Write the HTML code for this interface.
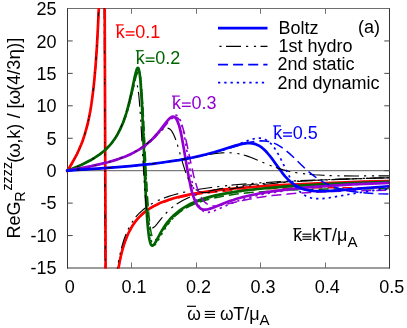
<!DOCTYPE html><html><head><meta charset="utf-8"><style>html,body{margin:0;padding:0;background:#fff}svg{display:block;will-change:transform;opacity:0.9999}text{font-family:"Liberation Sans",sans-serif;font-size:18px;fill:#000}</style></head><body>
<svg width="407" height="328" viewBox="0 0 407 328">
<rect width="407" height="328" fill="#fff"/>
<defs><clipPath id="c"><rect x="64.5" y="8.0" width="324.5" height="260.5"/></clipPath></defs>
<line x1="67.5" y1="170.69" x2="389.5" y2="170.69" stroke="#5c5c5c" stroke-width="1"/>
<g stroke-width="1" fill="none">
<line x1="67.0" y1="8.5" x2="390.0" y2="8.5" stroke="#6e6e6e"/>
<line x1="67.0" y1="268.0" x2="390.0" y2="268.0" stroke="#383838"/>
<line x1="67.5" y1="8.5" x2="67.5" y2="268.5" stroke="#363636"/>
<line x1="389.5" y1="8.5" x2="389.5" y2="268.5" stroke="#363636"/>
<line x1="131.50" y1="268.0" x2="131.50" y2="262.5" stroke="#707070"/>
<line x1="131.50" y1="8.5" x2="131.50" y2="13.8" stroke="#707070"/>
<line x1="196.50" y1="268.0" x2="196.50" y2="262.5" stroke="#707070"/>
<line x1="196.50" y1="8.5" x2="196.50" y2="13.8" stroke="#707070"/>
<line x1="260.50" y1="268.0" x2="260.50" y2="262.5" stroke="#707070"/>
<line x1="260.50" y1="8.5" x2="260.50" y2="13.8" stroke="#707070"/>
<line x1="325.50" y1="268.0" x2="325.50" y2="262.5" stroke="#707070"/>
<line x1="325.50" y1="8.5" x2="325.50" y2="13.8" stroke="#707070"/>
<line x1="67.5" y1="235.56" x2="72.7" y2="235.56" stroke="#484848"/>
<line x1="389.5" y1="235.56" x2="384.3" y2="235.56" stroke="#484848"/>
<line x1="67.5" y1="203.12" x2="72.7" y2="203.12" stroke="#484848"/>
<line x1="389.5" y1="203.12" x2="384.3" y2="203.12" stroke="#484848"/>
<line x1="67.5" y1="170.69" x2="72.7" y2="170.69" stroke="#484848"/>
<line x1="389.5" y1="170.69" x2="384.3" y2="170.69" stroke="#484848"/>
<line x1="67.5" y1="138.25" x2="72.7" y2="138.25" stroke="#484848"/>
<line x1="389.5" y1="138.25" x2="384.3" y2="138.25" stroke="#484848"/>
<line x1="67.5" y1="105.81" x2="72.7" y2="105.81" stroke="#484848"/>
<line x1="389.5" y1="105.81" x2="384.3" y2="105.81" stroke="#484848"/>
<line x1="67.5" y1="73.38" x2="72.7" y2="73.38" stroke="#484848"/>
<line x1="389.5" y1="73.38" x2="384.3" y2="73.38" stroke="#484848"/>
<line x1="67.5" y1="40.94" x2="72.7" y2="40.94" stroke="#484848"/>
<line x1="389.5" y1="40.94" x2="384.3" y2="40.94" stroke="#484848"/>
</g>
<g clip-path="url(#c)" fill="none" stroke-linejoin="round">
<path d="M67.2,171.2 72.1,163.0 75.5,156.8 77.1,153.8 78.5,150.8 79.8,147.8 81.1,144.8 82.4,141.5 83.5,138.3 84.6,134.9 85.6,131.4 86.6,127.9 87.6,124.2 89.3,116.2 90.3,111.0 91.2,105.6 92.0,99.7 92.8,93.6 93.6,87.0 94.3,80.2 95.6,65.4 96.8,48.7 97.8,29.9 98.8,8.7 99.7,-17.4 104.6,-17.4 105.7,293.9 115.1,293.9 115.1,293.9 116.5,281.5 117.3,276.1 118.1,270.8 118.9,265.9 119.8,261.1 120.7,256.7 121.7,252.5 122.8,248.5 123.9,244.9 125.1,241.3 126.4,237.9 127.7,234.8 129.1,231.8 130.6,229.0 132.1,226.3 133.5,224.2 134.9,222.2 136.3,220.4 137.8,218.6 139.4,216.9 141.1,215.2 142.8,213.6 144.6,212.1 146.5,210.7 148.5,209.3 150.6,207.9 152.8,206.6 155.1,205.4 157.5,204.3 159.9,203.1 162.6,202.0 165.6,200.9 168.8,199.8 172.1,198.7 175.6,197.7 179.3,196.8 183.2,195.8 191.6,194.1 200.8,192.5 211.0,191.1 222.1,189.7 234.5,188.5 248.2,187.3 263.3,186.2 279.9,185.2 298.1,184.3 318.1,183.4 340.0,182.5 363.7,181.7 389.5,181.0" stroke="#ff0000" stroke-width="2.7" stroke-linecap="round"/>
<path d="M67.2,171.2 72.1,162.9 75.5,156.8 77.1,153.7 78.5,150.8 79.9,147.7 81.1,144.7 82.4,141.5 83.5,138.2 84.6,134.9 85.6,131.4 86.6,127.7 87.6,123.9 89.3,116.0 90.3,110.8 91.2,105.3 92.0,99.6 92.8,93.4 93.6,87.0 94.3,80.1 95.6,65.1 96.7,48.5 97.7,29.4 98.7,7.7 99.5,-17.4 104.2,-17.4 105.4,293.9 114.2,293.9 115.6,281.0 116.3,275.5 117.1,270.1 117.9,265.1 118.7,260.2 119.7,255.6 120.6,251.3 121.7,247.2 122.8,243.3 123.9,239.7 125.2,236.3 126.5,233.0 127.8,229.9 129.3,227.0 130.9,224.2 132.2,222.1 133.6,220.1 135.0,218.1 136.5,216.2 138.1,214.4 139.8,212.7 141.6,211.1 143.4,209.5 145.3,208.0 147.4,206.5 149.4,205.1 151.7,203.8 154.0,202.5 156.4,201.3 158.9,200.1 161.6,199.0 164.7,197.8 168.0,196.6 171.4,195.5 175.0,194.5 178.8,193.5 182.7,192.5 186.9,191.6 191.3,190.7 200.8,189.0 211.1,187.5 222.6,186.1 235.0,184.8 248.7,183.7 263.8,182.6 280.4,181.6 298.5,180.7 318.3,179.9 339.9,179.1 363.6,178.4 389.5,177.8" stroke="#000" stroke-width="1.15" stroke-dasharray="15 5 2.2 5.7 2.2 4.4" stroke-dashoffset="-12.8"/>
<path d="M67.2,171.2 72.1,163.0 75.5,156.8 77.1,153.8 78.5,150.8 79.9,147.7 81.1,144.7 82.4,141.4 83.5,138.2 84.6,134.8 85.7,131.3 86.6,127.8 87.6,124.0 89.3,116.0 90.3,110.8 91.2,105.4 92.1,99.5 92.9,93.4 93.7,86.7 94.4,79.9 95.7,65.1 96.8,48.2 97.9,29.4 98.8,8.0 99.7,-17.4 104.6,-17.4 105.7,293.9 115.1,293.9 116.5,281.6 117.3,276.2 118.1,270.9 118.9,266.0 119.8,261.3 120.8,256.7 121.8,252.6 122.8,248.6 124.0,244.8 125.2,241.3 126.4,238.0 127.8,234.8 129.2,231.8 130.7,228.9 132.3,226.2 133.7,224.2 135.0,222.3 136.5,220.4 138.1,218.6 139.7,216.9 141.4,215.2 143.2,213.6 145.1,212.1 147.0,210.7 149.1,209.3 151.2,208.0 153.4,206.8 155.7,205.6 158.2,204.4 160.8,203.3 163.4,202.3 166.5,201.2 169.8,200.1 173.3,199.1 176.9,198.2 180.7,197.3 184.7,196.4 188.9,195.6 193.3,194.9 202.7,193.5 213.1,192.3 224.5,191.2 236.9,190.3 250.6,189.6 265.6,188.9 281.9,188.4 299.7,188.1 319.2,187.8 340.7,187.7 364.0,187.7 389.5,187.8" stroke="#ff0000" stroke-width="1.5" stroke-dasharray="10 5"/>
<path d="M67.2,171.2 72.1,163.0 75.5,156.8 77.1,153.8 78.5,150.8 79.8,147.8 81.1,144.8 82.4,141.5 83.5,138.3 84.6,134.9 85.6,131.4 86.6,127.9 87.6,124.2 89.3,116.2 90.3,111.0 91.2,105.6 92.0,99.7 92.8,93.6 93.6,87.0 94.3,80.2 95.6,65.4 96.8,48.7 97.8,29.9 98.8,8.7 99.7,-17.4 104.6,-17.4 105.7,293.9 115.1,293.9 115.1,293.9 116.5,281.5 117.3,276.1 118.1,270.8 118.9,265.9 119.8,261.1 120.7,256.7 121.7,252.5 122.8,248.5 123.9,244.9 125.1,241.3 126.4,237.9 127.7,234.8 129.1,231.8 130.6,229.0 132.1,226.3 133.5,224.2 134.9,222.2 136.3,220.4 137.8,218.6 139.4,216.9 141.1,215.2 142.8,213.6 144.6,212.1 146.5,210.7 148.5,209.3 150.6,207.9 152.8,206.6 155.1,205.4 157.5,204.3 159.9,203.1 162.6,202.0 165.6,200.9 168.8,199.8 172.1,198.7 175.6,197.7 179.3,196.8 183.2,195.8 191.6,194.1 200.8,192.5 211.0,191.1 222.1,189.7 234.5,188.5 248.2,187.3 263.3,186.2 279.9,185.2 298.1,184.3 318.1,183.4 340.0,182.5 363.7,181.7 389.5,181.0" stroke="#ff0000" stroke-width="1.7" stroke-dasharray="2.3 4"/>
<path d="M67.2,170.8 77.7,166.4 81.6,164.7 85.1,163.0 88.4,161.3 91.5,159.7 94.3,158.0 97.0,156.2 99.7,154.4 102.1,152.5 104.5,150.5 106.7,148.5 108.8,146.3 110.8,144.1 112.6,141.8 114.4,139.3 116.0,136.9 117.5,134.4 118.9,131.7 120.3,128.9 121.6,126.0 122.9,122.9 124.1,119.7 125.3,116.3 126.4,112.8 127.5,109.0 129.6,100.9 131.5,92.6 134.7,77.1 135.8,72.6 136.4,70.5 136.9,69.0 137.4,68.1 137.7,68.0 137.9,67.9 138.1,68.0 138.4,68.3 138.8,69.4 139.2,71.2 139.7,73.8 140.1,77.3 140.5,81.4 141.2,92.2 141.9,103.1 142.5,117.4 144.8,171.9 145.6,191.5 146.5,208.6 147.4,221.9 147.9,227.6 148.4,232.2 148.9,236.2 149.4,239.3 150.0,241.8 150.6,243.7 150.9,244.4 151.3,245.0 151.6,245.3 151.9,245.6 152.2,245.6 152.5,245.6 152.9,245.5 153.2,245.3 154.0,244.6 154.8,243.4 156.3,241.0 160.0,233.9 162.1,230.2 164.4,226.5 166.7,223.2 168.9,220.5 171.1,217.9 173.6,215.5 176.2,213.2 179.8,210.4 183.1,208.1 186.8,205.9 190.7,203.8 194.9,201.9 199.5,200.1 204.5,198.4 209.8,196.9 215.8,195.4 222.1,194.1 229.0,192.8 236.4,191.6 244.5,190.5 253.2,189.5 262.7,188.5 272.8,187.6 284.0,186.7 295.9,185.9 308.8,185.1 322.6,184.4 337.6,183.7 353.7,183.1 389.5,181.8" stroke="#006400" stroke-width="2.7" stroke-linecap="round"/>
<path d="M67.2,170.8 77.0,166.7 83.9,163.6 87.1,162.0 90.0,160.5 92.7,158.9 95.3,157.4 97.8,155.7 100.1,154.1 102.3,152.3 104.5,150.5 106.5,148.6 108.4,146.7 110.2,144.7 111.9,142.5 113.4,140.5 114.9,138.4 116.3,136.2 117.6,133.8 118.9,131.4 120.2,128.8 121.4,126.1 122.6,123.3 124.8,117.3 126.9,110.5 128.9,103.7 132.2,90.9 133.4,86.9 134.1,84.9 134.7,83.6 135.3,82.9 135.5,82.7 135.8,82.6 136.0,82.7 136.3,82.9 136.8,83.8 137.2,85.2 137.7,87.2 138.1,90.0 138.6,93.3 139.4,101.8 140.1,111.1 140.9,122.5 143.3,166.1 144.3,182.5 145.3,196.7 146.4,207.7 146.9,212.4 147.5,216.4 148.1,219.7 148.7,222.4 149.4,224.5 150.1,226.1 150.4,226.7 150.8,227.2 151.2,227.6 151.6,227.8 152.0,227.9 152.4,227.9 153.2,227.7 154.1,227.1 155.2,226.1 156.9,224.1 161.5,218.4 163.9,215.4 166.7,212.5 169.4,209.8 171.7,207.8 174.1,205.9 176.6,204.1 179.3,202.4 182.6,200.5 186.3,198.7 190.1,197.0 194.2,195.4 198.6,194.0 203.2,192.6 208.2,191.3 213.7,190.1 219.8,188.9 226.4,187.8 233.5,186.7 241.1,185.7 249.3,184.8 258.0,184.0 267.4,183.2 277.5,182.4 288.5,181.7 300.1,181.0 325.9,179.8 355.5,178.7 389.5,177.8" stroke="#000" stroke-width="1.15" stroke-dasharray="15 5 2.2 5.7 2.2 4.4" stroke-dashoffset="9.5"/>
<path d="M67.2,170.8 77.5,166.5 81.3,164.8 84.8,163.2 88.1,161.5 91.1,159.9 93.9,158.2 96.6,156.5 99.2,154.7 101.7,152.9 104.0,151.0 106.2,149.0 108.3,146.9 110.3,144.8 112.2,142.5 114.0,140.2 115.5,137.9 117.1,135.5 118.5,132.9 119.9,130.3 121.2,127.6 122.5,124.6 123.8,121.6 125.0,118.4 126.1,115.1 127.2,111.5 129.5,103.7 131.4,95.9 134.9,81.3 136.0,76.8 136.7,74.6 137.3,73.1 137.9,72.3 138.1,72.1 138.4,72.0 138.7,72.1 138.9,72.4 139.4,73.4 139.9,75.0 140.3,77.3 140.8,80.4 141.2,84.1 142.1,94.3 142.8,105.0 143.5,118.2 146.0,168.5 147.0,187.4 148.0,203.9 149.0,216.6 149.6,222.0 150.1,226.4 150.7,230.3 151.3,233.4 152.0,235.9 152.7,237.8 153.0,238.5 153.4,239.0 153.8,239.4 154.2,239.7 154.6,239.8 155.0,239.8 155.4,239.8 155.8,239.6 156.7,238.9 157.7,237.9 159.5,235.5 163.9,229.0 166.4,225.6 169.1,222.3 171.8,219.3 174.1,217.0 176.4,214.9 178.9,212.9 181.5,211.0 184.8,208.8 188.4,206.8 192.2,205.0 196.2,203.3 200.5,201.7 205.2,200.3 210.2,198.9 215.5,197.7 221.6,196.4 228.0,195.3 235.0,194.3 242.5,193.4 250.6,192.6 259.3,191.9 268.6,191.2 278.6,190.6 289.4,190.1 300.9,189.7 313.3,189.4 326.5,189.1 340.7,188.9 355.8,188.7 389.5,188.7" stroke="#006400" stroke-width="1.5" stroke-dasharray="10 5"/>
<path d="M67.2,170.8 77.6,166.5 81.4,164.7 84.9,163.1 88.3,161.4 91.3,159.7 94.2,158.1 96.9,156.4 99.5,154.6 102.0,152.7 104.3,150.7 106.5,148.7 108.6,146.6 110.6,144.4 112.5,142.1 114.3,139.7 115.9,137.3 117.5,134.8 118.9,132.2 120.3,129.5 121.6,126.7 122.9,123.7 124.2,120.5 125.4,117.2 126.5,113.8 127.6,110.2 129.8,102.3 131.7,94.3 135.1,79.4 136.2,74.9 136.9,72.7 137.4,71.3 138.0,70.4 138.2,70.2 138.5,70.1 138.7,70.2 139.0,70.4 139.2,70.9 139.4,71.5 139.9,73.2 140.3,75.8 140.8,78.9 141.2,83.0 142.0,93.6 142.7,104.8 143.4,118.7 145.8,172.0 146.7,191.5 147.7,208.5 148.6,221.7 149.2,227.2 149.7,231.8 150.2,235.8 150.8,238.8 151.4,241.3 152.0,243.2 152.3,243.9 152.7,244.4 153.0,244.8 153.4,245.0 153.7,245.1 154.1,245.1 154.5,245.0 154.8,244.8 155.7,244.0 156.6,242.8 158.2,240.3 162.3,233.1 164.6,229.2 167.1,225.5 169.6,222.2 171.8,219.5 174.1,217.0 176.4,214.7 179.0,212.5 182.2,210.1 185.6,207.8 189.2,205.7 193.2,203.7 197.4,201.8 201.9,200.1 206.8,198.5 211.9,197.0 217.9,195.5 224.2,194.2 231.1,192.9 238.5,191.7 246.6,190.5 255.3,189.5 264.6,188.5 274.8,187.5 285.7,186.7 297.7,185.8 310.4,185.0 324.1,184.3 338.7,183.5 354.5,182.9 389.5,181.6" stroke="#006400" stroke-width="1.7" stroke-dasharray="2.3 4"/>
<path d="M67.2,170.7 81.3,168.1 91.3,166.1 100.1,164.1 107.9,162.2 115.2,160.1 118.5,159.0 121.7,157.8 124.8,156.7 127.7,155.5 130.5,154.2 133.1,152.9 137.7,150.4 139.8,149.1 141.9,147.7 143.9,146.3 145.9,144.8 147.8,143.2 149.6,141.6 151.5,139.9 153.4,138.0 155.2,136.0 157.0,134.0 160.4,129.9 166.3,122.1 168.6,119.4 170.0,118.1 171.1,117.3 172.2,116.8 172.7,116.6 173.2,116.6 173.7,116.7 174.2,116.8 174.6,117.1 175.1,117.4 175.9,118.3 176.7,119.6 177.5,121.3 178.3,123.4 179.2,125.9 180.0,128.9 181.3,134.6 182.6,141.7 183.9,149.1 187.2,168.8 189.2,179.4 190.2,184.3 191.1,188.6 192.1,192.3 193.1,195.6 194.1,198.6 195.1,201.1 196.2,203.3 197.3,205.2 198.4,206.6 199.7,207.9 201.0,208.8 201.6,209.1 202.4,209.4 203.9,209.7 205.5,209.7 207.3,209.5 209.4,208.9 212.9,207.7 223.4,203.5 229.7,201.1 233.2,200.0 236.7,198.8 244.0,196.8 250.8,195.2 257.9,193.8 265.6,192.4 273.8,191.1 284.1,189.8 295.4,188.5 307.8,187.4 321.3,186.3 336.2,185.3 352.4,184.4 370.2,183.6 389.5,182.8" stroke="#9400d3" stroke-width="2.7" stroke-linecap="round"/>
<path d="M67.2,170.7 79.7,168.4 88.6,166.7 96.5,165.0 103.5,163.3 110.1,161.6 116.0,159.8 121.5,157.9 126.6,155.8 130.7,154.0 134.5,152.0 138.2,149.9 141.7,147.6 145.5,144.9 149.2,141.8 152.6,138.8 159.0,132.7 161.7,130.4 163.2,129.3 164.6,128.6 165.9,128.2 167.1,128.0 168.1,128.2 169.0,128.6 170.0,129.2 170.9,130.1 171.8,131.2 172.6,132.6 173.5,134.2 174.4,136.2 175.9,140.0 177.4,144.7 178.9,149.7 182.8,163.3 185.0,170.4 186.2,173.8 187.4,176.8 188.6,179.5 189.7,181.9 191.0,184.0 192.3,185.9 193.6,187.5 195.0,188.9 196.5,190.0 198.1,191.0 199.7,191.7 201.5,192.2 203.4,192.5 205.6,192.6 208.2,192.5 211.1,192.3 217.1,191.4 230.1,189.1 236.9,187.9 243.4,186.9 249.8,186.0 258.0,185.0 266.7,184.0 276.1,183.2 285.9,182.3 296.0,181.6 306.8,180.9 318.3,180.3 330.7,179.7 358.1,178.7 389.5,177.7" stroke="#000" stroke-width="1.15" stroke-dasharray="15 5 2.2 5.7 2.2 4.4" stroke-dashoffset="-8"/>
<path d="M67.2,170.7 81.1,168.1 91.1,166.2 99.8,164.2 107.5,162.3 114.8,160.2 121.3,158.0 124.4,156.9 127.3,155.7 130.1,154.4 132.9,153.1 137.4,150.7 141.6,148.2 145.6,145.4 149.4,142.4 151.4,140.7 153.4,138.8 155.3,136.9 157.3,134.9 160.9,130.8 167.5,122.9 169.0,121.3 170.2,120.1 171.8,118.7 173.1,117.8 173.8,117.5 174.4,117.3 175.0,117.2 175.6,117.2 176.1,117.2 176.6,117.4 177.6,117.9 178.5,118.8 179.5,120.1 180.4,121.7 181.3,123.6 182.2,126.0 183.1,128.7 184.5,133.9 186.1,140.5 187.6,147.3 191.5,165.9 193.7,175.7 194.9,180.3 196.1,184.4 197.3,188.2 198.4,191.3 199.5,194.0 200.8,196.6 202.1,198.8 203.4,200.6 204.8,202.2 206.3,203.4 207.9,204.4 209.7,205.2 211.6,205.7 213.9,205.9 216.3,205.9 219.0,205.6 221.6,205.2 224.7,204.5 237.4,201.6 243.8,200.2 250.0,199.0 256.1,197.9 264.0,196.7 272.2,195.6 281.1,194.7 290.4,193.8 300.1,193.1 310.4,192.5 321.3,191.9 333.1,191.4 345.8,191.0 359.4,190.7 373.9,190.5 389.5,190.3" stroke="#9400d3" stroke-width="1.5" stroke-dasharray="10 5"/>
<path d="M67.2,170.7 81.4,168.1 91.7,166.0 100.6,164.0 108.5,162.0 115.9,159.9 119.3,158.7 122.6,157.6 125.7,156.4 128.7,155.1 131.6,153.8 134.3,152.5 136.7,151.2 139.0,149.9 141.2,148.6 143.3,147.1 145.3,145.7 147.4,144.1 149.4,142.5 151.3,140.9 153.2,139.0 155.1,137.1 157.0,135.1 158.9,133.0 162.3,128.8 168.5,120.8 170.9,118.0 172.3,116.7 173.5,115.8 174.6,115.2 175.2,115.1 175.7,115.1 176.2,115.2 176.6,115.3 177.1,115.6 177.6,115.9 178.5,116.9 179.3,118.3 180.2,120.1 181.0,122.3 181.9,125.1 182.7,128.3 184.1,134.4 185.5,142.0 186.8,150.0 190.2,171.0 192.1,181.5 193.1,186.4 194.0,190.8 195.0,194.6 195.9,198.1 196.9,201.1 197.9,203.6 198.9,205.7 200.0,207.7 201.1,209.2 202.4,210.5 203.7,211.4 205.0,212.0 205.8,212.2 206.6,212.3 208.2,212.4 210.2,212.1 212.4,211.4 216.1,210.0 226.6,205.4 232.9,202.9 236.4,201.6 240.0,200.3 243.5,199.2 247.2,198.1 253.8,196.4 260.8,194.8 268.3,193.3 276.4,192.0 286.5,190.5 297.7,189.1 309.9,187.8 323.1,186.7 337.6,185.6 353.4,184.6 370.6,183.6 389.5,182.8" stroke="#9400d3" stroke-width="1.7" stroke-dasharray="2.3 4"/>
<path d="M67.2,170.7 104.0,168.2 117.7,167.1 130.0,166.1 141.6,164.9 152.4,163.8 162.3,162.5 171.6,161.2 178.9,160.1 185.9,158.8 192.6,157.5 199.0,156.1 206.5,154.3 213.9,152.3 220.6,150.3 233.7,146.1 239.2,144.6 242.4,143.9 245.1,143.4 247.7,143.2 250.1,143.2 251.9,143.3 253.7,143.6 255.3,144.1 256.9,144.7 258.5,145.4 260.1,146.4 261.6,147.4 263.2,148.7 264.6,150.0 266.1,151.5 267.5,153.1 269.1,155.0 272.4,159.2 279.0,168.4 281.9,172.3 285.1,176.3 288.0,179.4 289.8,181.1 291.7,182.8 293.5,184.2 295.4,185.5 297.3,186.6 299.3,187.5 301.4,188.4 303.5,189.1 305.5,189.7 307.8,190.2 310.2,190.6 312.8,190.9 315.5,191.1 318.4,191.2 321.7,191.2 325.0,191.1 330.8,190.8 337.9,190.3 368.6,187.8 389.5,186.2" stroke="#0000ff" stroke-width="2.7" stroke-linecap="round"/>
<path d="M67.2,170.7 95.1,168.8 115.0,167.3 132.3,165.8 147.7,164.3 161.9,162.5 168.7,161.6 175.4,160.6 187.2,158.6 207.3,154.9 214.2,153.8 218.2,153.3 221.9,152.9 225.3,152.7 228.5,152.7 232.4,152.9 236.3,153.3 240.0,154.0 243.8,155.0 247.4,156.1 251.2,157.5 255.4,159.2 264.5,163.1 268.8,164.9 273.5,166.7 278.0,168.3 283.3,169.9 288.6,171.2 294.3,172.4 300.1,173.3 307.0,174.1 314.6,174.8 323.0,175.3 332.3,175.7 342.9,175.9 355.3,176.0 370.3,175.9 389.5,175.8" stroke="#000" stroke-width="1.15" stroke-dasharray="15 5 2.2 5.7 2.2 4.4" stroke-dashoffset="-5.4"/>
<path d="M67.2,170.7 104.2,168.2 118.0,167.1 130.4,166.0 142.1,164.9 152.9,163.7 163.0,162.4 172.6,161.1 181.6,159.6 190.2,158.1 198.4,156.4 206.5,154.5 212.4,153.0 218.5,151.4 225.6,149.3 241.9,144.4 246.4,143.2 250.3,142.3 254.3,141.5 257.9,141.0 261.2,140.8 264.5,140.9 266.7,141.2 268.8,141.5 270.9,142.1 273.0,142.7 275.1,143.6 277.2,144.6 279.3,145.8 281.4,147.1 283.2,148.4 285.1,149.9 289.0,153.1 293.0,156.8 301.2,164.8 304.9,168.3 308.9,171.9 312.6,174.9 314.9,176.7 317.0,178.2 319.1,179.5 321.3,180.9 323.4,182.2 325.7,183.4 327.9,184.4 330.2,185.4 332.8,186.5 335.5,187.5 338.3,188.3 341.2,189.2 344.2,189.9 347.3,190.6 350.5,191.2 353.9,191.7 361.1,192.6 369.4,193.2 378.7,193.7 389.5,194.0" stroke="#0000ff" stroke-width="1.5" stroke-dasharray="10 5"/>
<path d="M67.2,170.7 90.7,169.1 107.6,167.9 122.7,166.7 136.3,165.5 149.1,164.2 160.9,162.8 171.7,161.3 181.8,159.8 189.9,158.3 197.6,156.7 204.8,155.1 211.8,153.3 219.2,151.1 226.4,148.7 233.2,146.2 245.4,141.5 250.3,139.8 253.0,139.0 255.6,138.5 258.0,138.2 260.1,138.2 261.9,138.4 263.5,138.8 265.1,139.4 266.7,140.2 268.2,141.2 269.6,142.4 271.1,143.8 272.5,145.4 273.8,147.1 275.3,149.2 276.7,151.6 278.2,154.1 281.1,159.6 286.7,171.2 289.3,176.3 292.0,181.2 293.3,183.3 294.6,185.3 296.0,187.3 297.7,189.3 299.3,191.1 300.9,192.6 302.5,193.9 304.3,195.1 306.0,196.1 307.8,196.9 309.4,197.5 311.2,198.0 313.1,198.3 315.1,198.5 317.2,198.7 319.4,198.7 321.8,198.6 324.6,198.3 328.4,197.9 332.9,197.2 353.4,193.6 365.0,191.8 376.9,190.1 389.5,188.6" stroke="#0000ff" stroke-width="1.7" stroke-dasharray="2.3 4"/>
</g>
<text x="56.5" y="274.1" text-anchor="end">-15</text>
<text x="56.5" y="241.7" text-anchor="end">-10</text>
<text x="56.5" y="209.4" text-anchor="end">-5</text>
<text x="56.5" y="177.0" text-anchor="end">0</text>
<text x="56.5" y="144.6" text-anchor="end">5</text>
<text x="56.5" y="112.3" text-anchor="end">10</text>
<text x="56.5" y="79.9" text-anchor="end">15</text>
<text x="56.5" y="47.6" text-anchor="end">20</text>
<text x="56.5" y="15.2" text-anchor="end">25</text>
<text x="69.7" y="292.7" text-anchor="middle">0</text>
<text x="134.1" y="292.7" text-anchor="middle">0.1</text>
<text x="198.5" y="292.7" text-anchor="middle">0.2</text>
<text x="262.9" y="292.7" text-anchor="middle">0.3</text>
<text x="327.3" y="292.7" text-anchor="middle">0.4</text>
<text x="391.7" y="292.7" text-anchor="middle">0.5</text>
<line x1="218" y1="28.1" x2="267.5" y2="28.1" stroke="#0000ff" stroke-width="2.7"/>
<line x1="218" y1="46.4" x2="267.5" y2="46.4" stroke="#000" stroke-width="1.1" stroke-dasharray="15 5 2.2 5.7 2.2 4.4" stroke-dashoffset="26.5"/>
<line x1="218" y1="64.6" x2="267.5" y2="64.6" stroke="#0000ff" stroke-width="1.6" stroke-dasharray="10 5.1"/>
<line x1="218" y1="82.6" x2="267.5" y2="82.6" stroke="#0000ff" stroke-width="1.8" stroke-dasharray="2.3 3.96"/>
<text x="278.4" y="33.7">Boltz</text>
<text x="358.0" y="32.7">(a)</text>
<text x="278.4" y="51.8">1st hydro</text>
<text x="277.4" y="70.2">2nd static</text>
<text x="277.4" y="88.8">2nd dynamic</text>
<text x="115.8" y="38.0" style="fill:#ff0000">k</text>
<line x1="125.70" y1="31.85" x2="134.55" y2="31.85" stroke="#ff0000" stroke-width="1.35"/>
<line x1="125.70" y1="35.15" x2="134.55" y2="35.15" stroke="#ff0000" stroke-width="1.35"/>
<text x="135.3" y="38.0" style="fill:#ff0000">0.1</text>
<line x1="115.8" y1="24.9" x2="123.6" y2="24.9" stroke="#ff0000" stroke-width="1.2"/>
<text x="135.8" y="64.2" style="fill:#006400">k</text>
<line x1="145.70" y1="58.05" x2="154.55" y2="58.05" stroke="#006400" stroke-width="1.35"/>
<line x1="145.70" y1="61.35" x2="154.55" y2="61.35" stroke="#006400" stroke-width="1.35"/>
<text x="155.3" y="64.2" style="fill:#006400">0.2</text>
<line x1="135.8" y1="50.7" x2="143.6" y2="50.7" stroke="#006400" stroke-width="1.2"/>
<text x="172.0" y="109.2" style="fill:#9400d3">k</text>
<line x1="181.90" y1="103.05" x2="190.75" y2="103.05" stroke="#9400d3" stroke-width="1.35"/>
<line x1="181.90" y1="106.35" x2="190.75" y2="106.35" stroke="#9400d3" stroke-width="1.35"/>
<text x="191.5" y="109.2" style="fill:#9400d3">0.3</text>
<line x1="172.0" y1="96.1" x2="179.8" y2="96.1" stroke="#9400d3" stroke-width="1.2"/>
<text x="273.2" y="139.0" style="fill:#0000ff">k</text>
<line x1="283.10" y1="132.85" x2="291.95" y2="132.85" stroke="#0000ff" stroke-width="1.35"/>
<line x1="283.10" y1="136.15" x2="291.95" y2="136.15" stroke="#0000ff" stroke-width="1.35"/>
<text x="292.7" y="139.0" style="fill:#0000ff">0.5</text>
<line x1="273.2" y1="125.9" x2="281.0" y2="125.9" stroke="#0000ff" stroke-width="1.2"/>
<text x="293.3" y="241.4" style="fill:#000">k</text>
<line x1="293.3" y1="228.7" x2="301.1" y2="228.7" stroke="#000" stroke-width="1.2"/>
<line x1="302.4" y1="239.30" x2="311.4" y2="239.30" stroke="#000" stroke-width="1.15"/>
<line x1="302.4" y1="236.75" x2="311.4" y2="236.75" stroke="#000" stroke-width="1.15"/>
<line x1="302.4" y1="234.20" x2="311.4" y2="234.20" stroke="#000" stroke-width="1.15"/>
<text x="311.95" y="241.4">kT/μ</text>
<text x="347.5" y="246.6" style="font-size:15px">A</text>
<text transform="translate(187.3,319.5) scale(0.970,1)">ω</text>
<line x1="187.0" y1="306.3" x2="196.0" y2="306.3" stroke="#000" stroke-width="1.2"/>
<line x1="204.8" y1="317.40" x2="215.0" y2="317.40" stroke="#000" stroke-width="1.15"/>
<line x1="204.8" y1="314.45" x2="215.0" y2="314.45" stroke="#000" stroke-width="1.15"/>
<line x1="204.8" y1="311.50" x2="215.0" y2="311.50" stroke="#000" stroke-width="1.15"/>
<text transform="translate(220.0,319.5) scale(0.970,1)">ω</text>
<text x="233.2" y="319.5">T/μ</text>
<text x="259.5" y="325.1" style="font-size:15px">A</text>
<g transform="translate(19.9,238) rotate(-90)">
<text x="-0.6" y="0">ReG</text>
<text x="36.2" y="5.2" style="font-size:14.4px">R</text>
<text x="47.4" y="-8.1" style="font-size:14.4px">zzzz</text>
<text x="75.2" y="0">(</text>
<text transform="translate(80.3,0) scale(1.05,1)">ω</text>
<text x="94.25" y="0">,k)</text>
<text x="119.85" y="0">/</text>
<text x="129.55" y="0">[</text>
<text transform="translate(133.45,0) scale(1.05,1)">ω</text>
<text x="147.2" y="0">(4/3</text>
<text transform="translate(178.55,0) scale(1.05,1)">η</text>
<text x="189.35" y="0">)]</text>
</g>
</svg></body></html>
